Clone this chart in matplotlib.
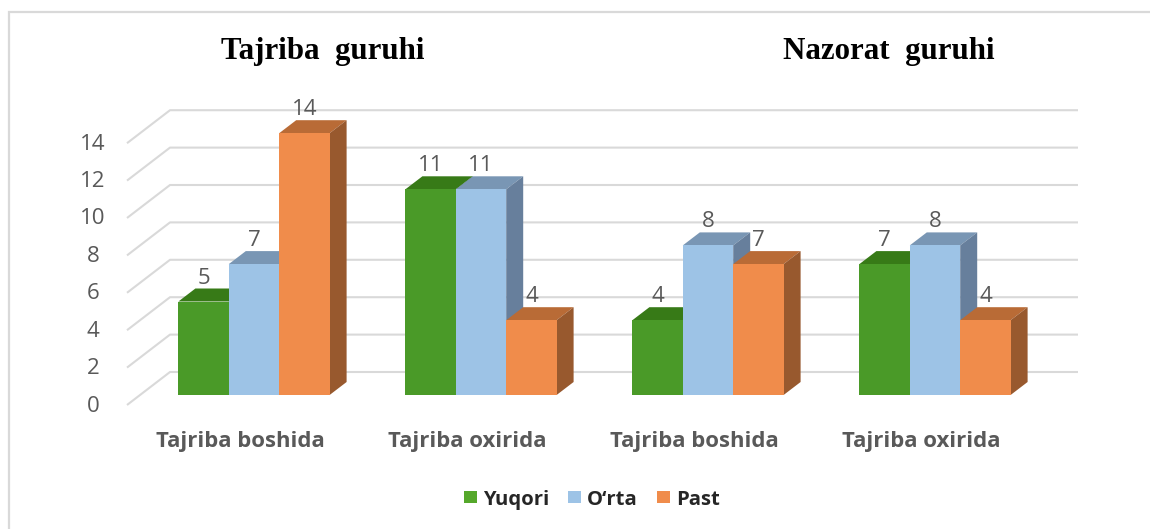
import matplotlib.pyplot as plt
from matplotlib.patches import Polygon, Rectangle

plt.rcParams['font.family'] = ['Open Sans', 'DejaVu Sans']

categories = ['Tajriba boshida', 'Tajriba oxirida', 'Tajriba boshida', 'Tajriba oxirida']
yuqori = [5, 11, 4, 7]
orta = [7, 11, 8, 8]
past = [14, 4, 7, 4]
series = ['Yuqori', 'O‘rta', 'Past']
y_ticks = [0, 2, 4, 6, 8, 10, 12, 14]

front_colors = ['#4a9a28', '#9dc3e6', '#f08c4b']
top_colors = ['#377a17', '#7996b4', '#b96b36']
side_colors = ['#2f6513', '#677f9c', '#98592e']
legend_colors = ['#55a82b', '#9dc3e6', '#f08c4b']
text_gray = '#595959'

# pixel to data: one group is 227 px wide, one value unit 18.7 px
px_x = 1 / 227
px_y = 1 / 18.7
bar_w = 50.4 * px_x
depth_x = 17 * px_x
depth_y = 13 * px_y


def xpos(px):
    # group 0 centre sits at x=254 px
    return (px - 254) * px_x


def ypos(px):
    # value 0 sits at y=395 px
    return (395 - px) * px_y


fig = plt.figure(figsize=(11.5, 5.29), dpi=100)
ax = fig.add_axes([0, 0, 1, 1])
ax.set_xlim(xpos(0), xpos(1150))
ax.set_ylim(ypos(529), ypos(0))
ax.axis('off')

# outer frame of the chart
ax.add_patch(Rectangle((xpos(9), ypos(540)), 1400 * px_x, 528 * px_y,
                       fc='white', ec='#d9d9d9', lw=1.6, zorder=0))

# back wall and left wall grid
for v in y_ticks:
    back_y = v + 23 * px_y
    ax.plot([xpos(127), xpos(170), xpos(1078)], [v - 10 * px_y, back_y, back_y],
            color='#d9d9d9', lw=1.5, solid_capstyle='butt', zorder=1)
    ax.text(xpos(93), v - 11 * px_y, str(v), ha='center', va='center',
            fontsize=16, color=text_gray)

values = [yuqori, orta, past]
for g in range(len(categories)):
    x0 = g - 1.5 * bar_w
    # draw left to right so that each bar hides the side of the one before
    for s in range(3):
        v = values[s][g]
        left = x0 + s * bar_w
        right = left + bar_w
        ax.add_patch(Polygon([(left, v), (left + depth_x, v + depth_y),
                              (right + depth_x, v + depth_y), (right, v)],
                             fc=top_colors[s], ec='none', zorder=2 + s))
        ax.add_patch(Polygon([(right, 0), (right + depth_x, depth_y),
                              (right + depth_x, v + depth_y), (right, v)],
                             fc=side_colors[s], ec='none', zorder=2 + s))
        ax.add_patch(Rectangle((left, 0), bar_w, v, fc=front_colors[s], ec='none', zorder=2 + s))
        ax.text(left + bar_w / 2, v + 13 * px_y, str(v), ha='center', va='bottom',
                fontsize=16, color=text_gray, zorder=10)
    ax.text(g - 14 * px_x, ypos(441), categories[g], ha='center', va='center',
            fontsize=15.9, fontweight='bold', color=text_gray)

# group titles
ax.text(xpos(323), ypos(51), 'Tajriba  guruhi', ha='center', va='center',
        family='Liberation Serif', fontsize=22.2, fontweight='bold', color='black')
ax.text(xpos(889), ypos(51), 'Nazorat  guruhi', ha='center', va='center',
        family='Liberation Serif', fontsize=22.2, fontweight='bold', color='black')

# legend
for s, name in enumerate(series):
    lx = [464, 568, 657][s]
    ax.add_patch(Rectangle((xpos(lx), ypos(503)), 12.5 * px_x, 12.5 * px_y,
                           fc=legend_colors[s], ec='none'))
    ax.text(xpos(lx + 19), ypos(500), name, ha='left', va='center',
            fontsize=14.6, fontweight='bold', color='#262626')

fig.savefig('out.png', dpi=100)
